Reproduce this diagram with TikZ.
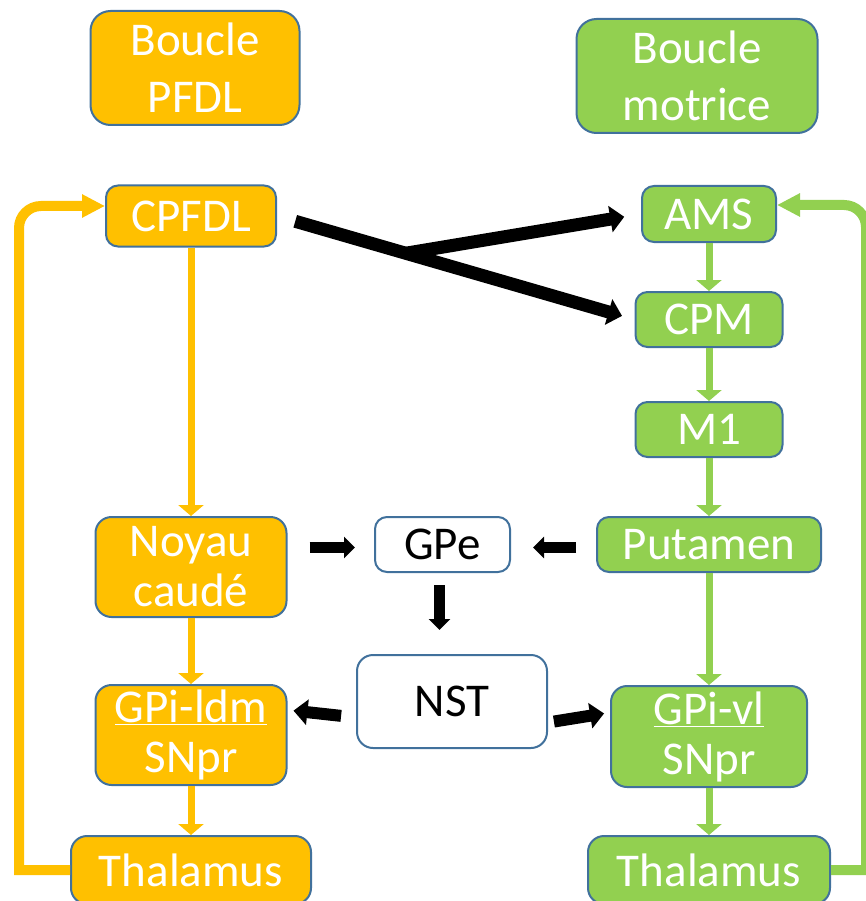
\documentclass[tikz,border=0pt]{standalone}
\usepackage{fontspec}
\setmainfont{Carlito}
\usepackage{tikz}
\usetikzlibrary{arrows.meta,positioning}
\definecolor{pfdlorange}{HTML}{FFC000}
\definecolor{motgreen}{HTML}{92D050}
\definecolor{boxblue}{HTML}{41719C}
\newcommand{\boxfont}{\fontsize{47}{50}\selectfont}

\begin{document}
\begin{tikzpicture}[x=1pt,y=-1pt,on grid,>={Triangle[width=25pt,length=11pt]},
  box/.style={draw=boxblue,line width=2pt,rounded corners=12pt,inner sep=0pt,align=center,font=\boxfont,text=white},
  pfdl/.style={box,fill=pfdlorange},
  mot/.style={box,fill=motgreen},
  mid/.style={box,fill=white,text=black}]
  \useasboundingbox (0,0) rectangle (865,901);

  % left loop
  \node[pfdl,minimum width=209pt,minimum height=114pt,rounded corners=20pt] (BL) at (195,68) {Boucle\\[7pt]PFDL};
  \node[pfdl,minimum width=170pt,minimum height=61pt] (CPFDL) at (191,216) {CPFDL};
  \node[pfdl,minimum width=191pt,minimum height=100pt,rounded corners=16pt] (NC) [below=351pt of CPFDL] {Noyau\\caudé};
  \node[pfdl,minimum width=191pt,minimum height=100pt,rounded corners=16pt] (GPiL) [below=168pt of NC] {\underline{GPi-ldm}\\SNpr};
  \node[pfdl,minimum width=240pt,minimum height=68pt,rounded corners=16pt] (ThL) [below=135pt of GPiL] {Thalamus};

  % right loop
  \node[mot,minimum width=241pt,minimum height=114pt,rounded corners=20pt] (BM) at (697,76) {Boucle\\[7pt]motrice};
  \node[mot,minimum width=134pt,minimum height=56pt] (AMS) at (709,214) {AMS};
  \node[mot,minimum width=147pt,minimum height=55pt] (CPM) [below=105.5pt of AMS] {CPM};
  \node[mot,minimum width=147pt,minimum height=55pt] (M1) [below=110pt of CPM] {M1};
  \node[mot,minimum width=224pt,minimum height=55pt] (Put) [below=115pt of M1] {Putamen};
  \node[mot,minimum width=196pt,minimum height=101pt,rounded corners=16pt] (GPiV) [below=192pt of Put] {\underline{GPi-vl}\\SNpr};
  \node[mot,minimum width=242pt,minimum height=68pt,rounded corners=16pt] (ThR) [below=133.5pt of GPiV] {Thalamus};

  % middle
  \node[mid,minimum width=135pt,minimum height=55pt] (GPe) [left=266.5pt of Put] {GPe};
  \node[mid,minimum width=190pt,minimum height=93pt,rounded corners=16pt] (NST) at (452,701.5) {NST};

\tikzset{oarrow/.style={->,draw=pfdlorange,line width=7pt}}
\tikzset{garrow/.style={->,draw=motgreen,line width=7pt}}
\tikzset{feed/.style={-{Triangle[width=22pt,length=23pt]},line width=10pt}}
\tikzset{bigarrow/.style={-{Triangle[width=26pt,length=14pt]},line width=13pt}}
\tikzset{smallarrow/.style={-{Triangle[width=21pt,length=11pt]},line width=10.5pt}}
\tikzset{midarrow/.style={-{Triangle[width=25pt,length=14pt]},line width=12pt}}
\path (CPFDL)  edge [oarrow] (NC)
      (NC)     edge [oarrow] (GPiL)
      (GPiL)   edge [oarrow] (ThL)
      (AMS)    edge [garrow] (CPM)
      (CPM)    edge [garrow] (M1)
      (M1)     edge [garrow] (Put)
      (Put)    edge [garrow] (GPiV)
      (GPiV)   edge [garrow] (ThR);

  % loops back to the cortex
  \draw[feed,draw=pfdlorange] (ThL.west) -- ++(-51,0) [rounded corners=22pt] |- ([yshift=10pt]CPFDL.west);
  \draw[feed,draw=motgreen] (ThR.east) -- ++(35,0) [rounded corners=22pt] |- ([yshift=9pt]AMS.east);

  % black projections
  \path (CPFDL.east) -- (CPM.west) coordinate[pos=0.36] (br);
  \draw[bigarrow,shorten <=19pt,shorten >=13pt] (CPFDL.east) -- (CPM.west);
  \draw[bigarrow,shorten >=17pt] (br) -- (AMS.west);
  \draw[smallarrow,shorten <=22pt,shorten >=19pt] ([yshift=-3pt]NC.east |- GPe.west) -- ([yshift=-3pt]GPe.west);
  \draw[smallarrow,shorten <=20pt,shorten >=22pt] ([yshift=-3pt]Put.west) -- ([yshift=-3pt]GPe.east);
  \draw[smallarrow,shorten <=12pt,shorten >=24pt] ([xshift=-3pt]GPe.south) -- ([xshift=-3pt]GPe.south |- NST.north);
  \draw[midarrow,shorten <=15pt,shorten >=6pt] ([yshift=-16pt]NST.west) -- ([yshift=25pt]GPiL.east);
  \draw[midarrow,shorten <=6pt,shorten >=6pt] ([yshift=-21pt]NST.east) -- ([yshift=24pt]GPiV.west);
\end{tikzpicture}
\end{document}
